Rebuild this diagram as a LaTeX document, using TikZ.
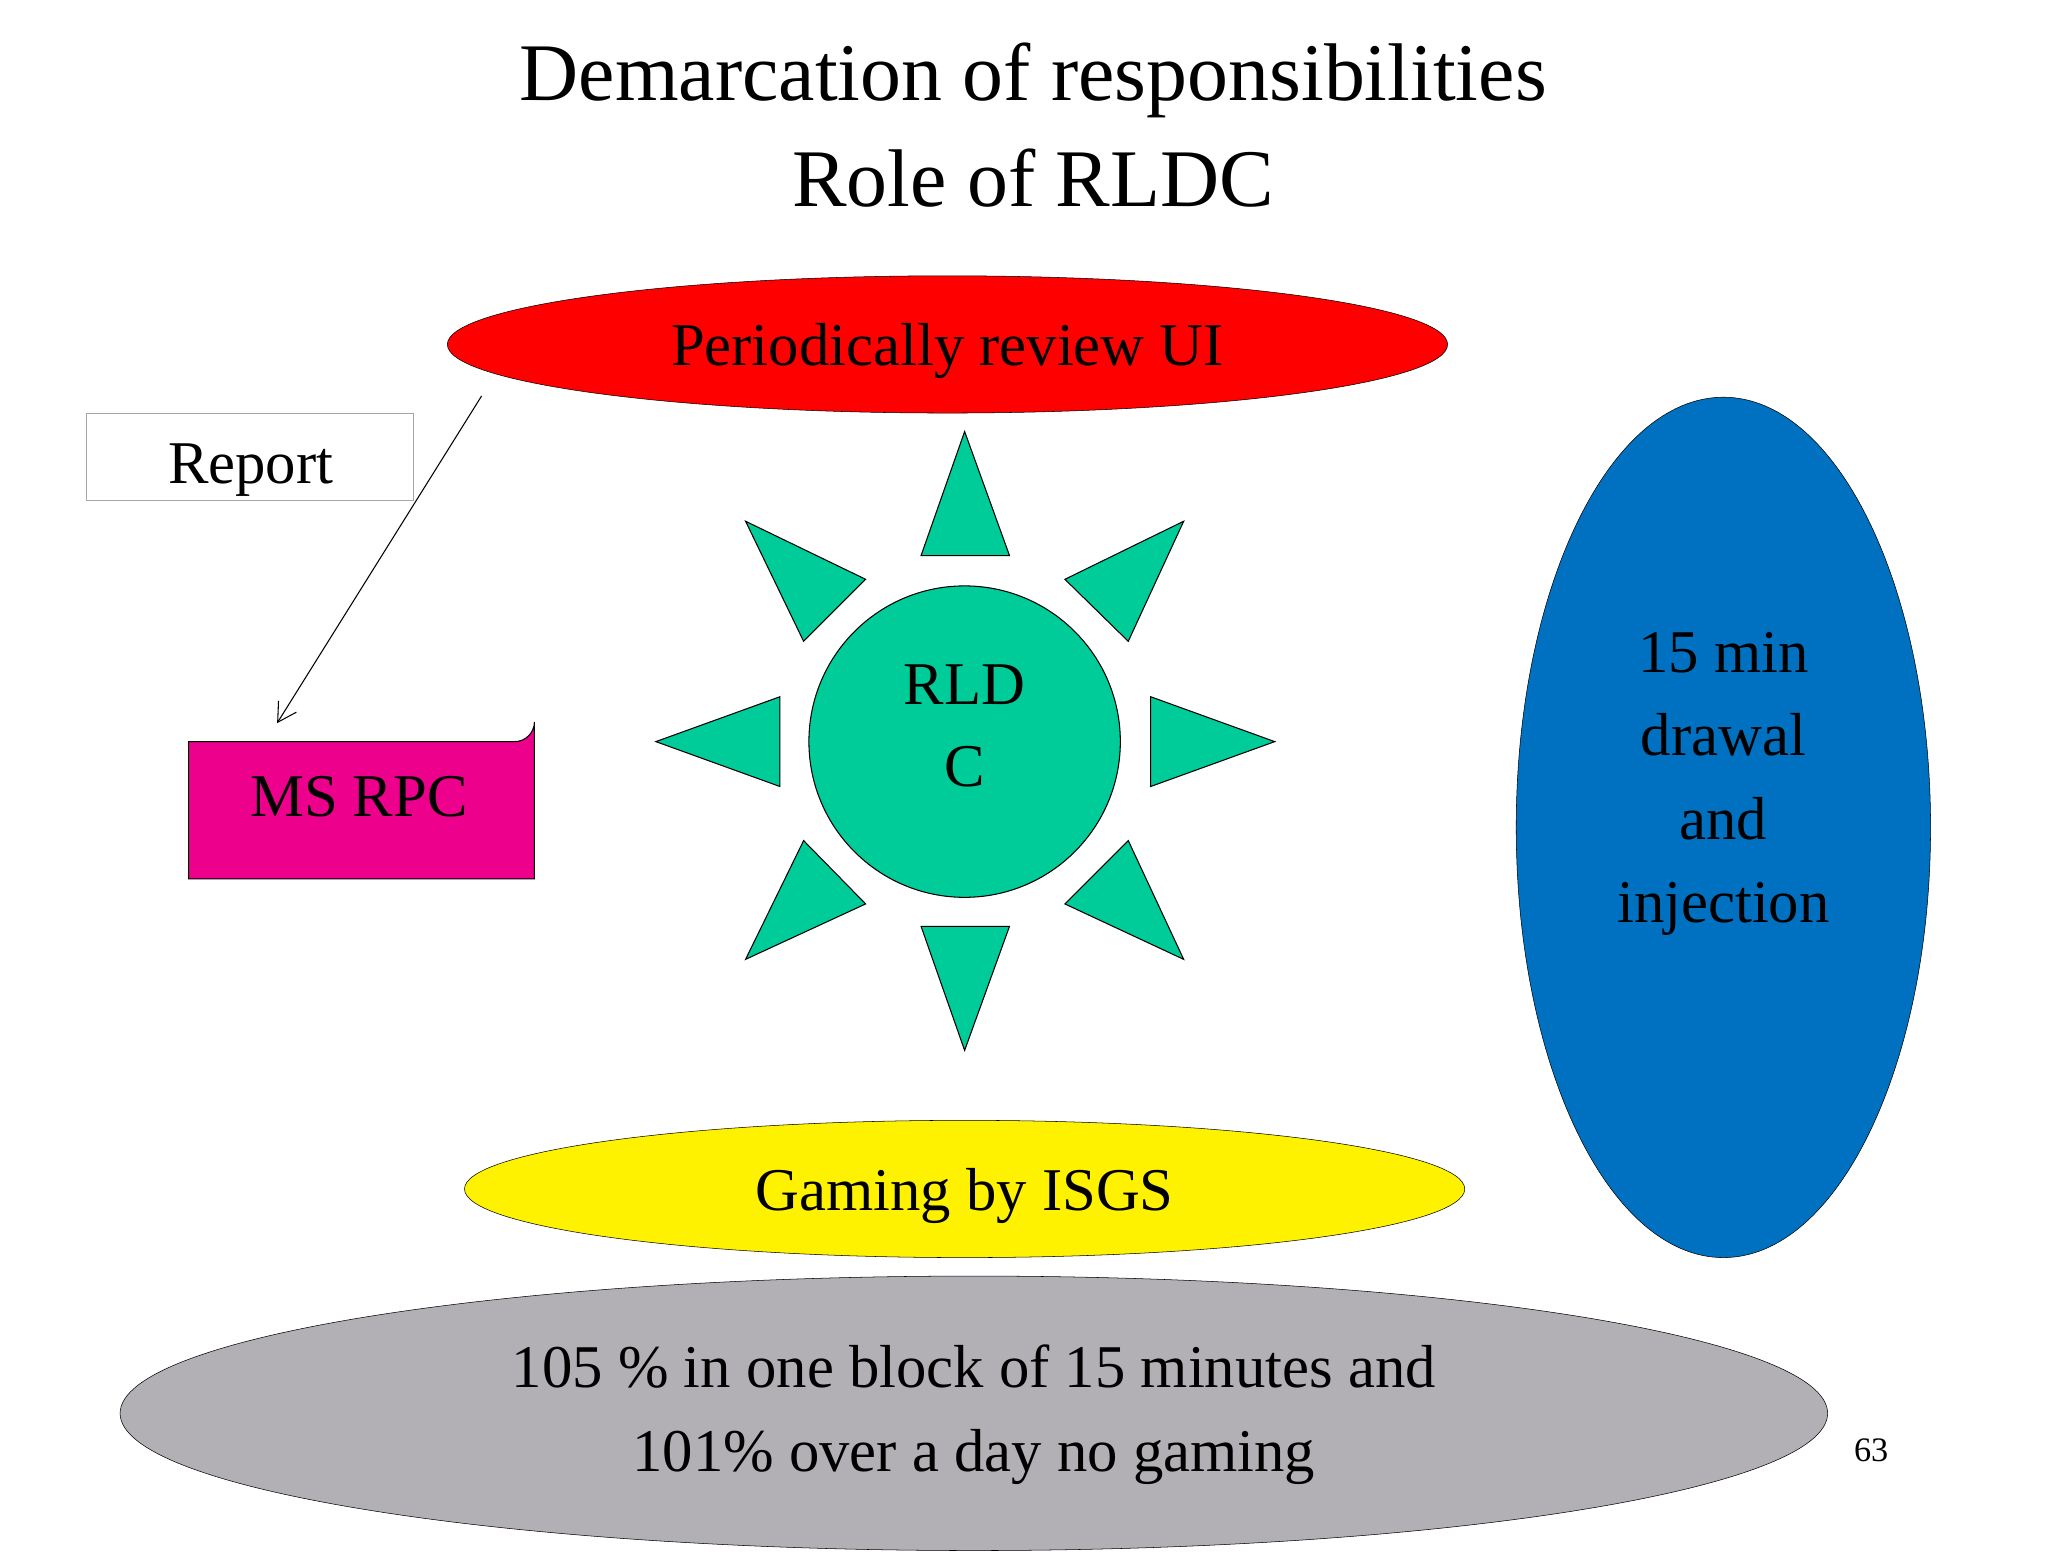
\documentclass[tikz,border=0pt]{standalone}
\usepackage{fontspec}
\setmainfont{Liberation Serif}
\usetikzlibrary{arrows.meta}
\begin{document}
\begin{tikzpicture}[x=1pt,y=-1pt,
  body/.style={font=\fontsize{46}{62}\selectfont,align=center},
  tri/.style={draw=black,fill=teal1,line width=0.8pt}]
\definecolor{teal1}{RGB}{0,204,153}
\definecolor{blue1}{RGB}{0,112,192}
\definecolor{gray1}{RGB}{178,176,180}
\useasboundingbox (0,0) rectangle (1552,1176);
\node[font=\fontsize{62}{80}\selectfont,align=center] (title) at (783,95) {Demarcation of responsibilities\\Role of RLDC};
\draw[fill=red] (718,261) ellipse [x radius=379, y radius=52];
\node[body] (pr) at (718,266) {Periodically review UI};
\node[draw=gray!70,minimum width=248pt,minimum height=66pt,inner sep=0pt] (rep) at (189,346) {};
\node[body] at (190,356) {Report};
\coordinate (a1) at (365,300);
\coordinate (a2) at (210,548);
\draw[-{Straight Barb[length=14pt,width=16pt]},line width=0.8pt] (a1) -- (a2);
\draw[fill=magenta,line width=0.8pt] (143,562) -- (390,562) arc[start angle=90,end angle=0,radius=15] -- (405,666) -- (143,666) -- cycle;
\node[body] (ms) at (272,604) {MS RPC};
\draw[tri] (731,562) circle[radius=118];
\node[body] (rldc) at (731,550) {RLD\\C};
\draw[tri] (731,327)--(698,421)--(765,421)--cycle;
\draw[tri] (698,702)--(765,702)--(731,796)--cycle;
\draw[tri] (497,562)--(591,528)--(591,596)--cycle;
\draw[tri] (872,528)--(872,596)--(966,562)--cycle;
\draw[tri] (565,395)--(656,439)--(609,486)--cycle;
\draw[tri] (897,395)--(807,439)--(855,486)--cycle;
\draw[tri] (565,727)--(609,637)--(656,685)--cycle;
\draw[tri] (897,727)--(855,637)--(807,685)--cycle;
\draw[fill=blue1] (1306,627) ellipse [x radius=157, y radius=326];
\node[body,font=\fontsize{46}{63}\selectfont] (bl) at (1306,594) {15 min\\drawal\\and\\injection};
\draw[fill=yellow] (731,901) ellipse [x radius=379, y radius=52];
\node[body] (gam) at (731,906) {Gaming by ISGS};
\draw[fill=gray1] (738,1071) ellipse [x radius=647, y radius=104];
\node[body,font=\fontsize{46}{63}\selectfont] (pct) at (738,1072) {105 \% in one block of 15 minutes and\\101\% over a day no gaming};
\node[font=\fontsize{26}{30}\selectfont] (pg) at (1418,1099) {63};
\end{tikzpicture}
\end{document}
